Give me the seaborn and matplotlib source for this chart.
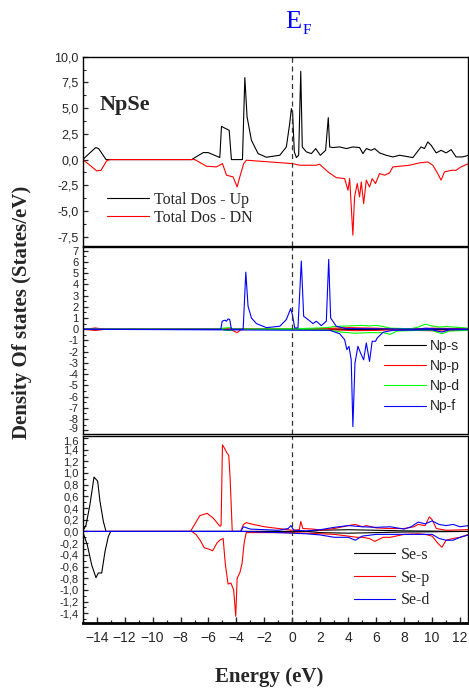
import matplotlib
matplotlib.use("Agg")
import matplotlib.pyplot as plt
import matplotlib.transforms as mtransforms
import seaborn as sns
from matplotlib.ticker import MultipleLocator, FuncFormatter

# ── Data (energy in eV, DOS in states/eV) ────
# Panel 1: total DOS
tot_up_e = [-15, -14.07, -13.86, -13.33, -7.21, -6.38, -6.02, -5.19, -5.07, -4.9, -4.52, -4.36,
            -3.57, -3.4, -3.24, -2.93, -2.45, -1.86, -0.9, -0.43, -0.19, -0.07, 0.02, 0.14,
            0.29, 0.45, 0.6, 0.71, 1.0, 1.36, 1.67, 2.0, 2.38, 2.57, 2.67, 2.9, 3.38, 3.86,
            4.33, 4.81, 5.05, 5.29, 5.64, 5.88, 6.24, 6.71, 7.19, 7.67, 8.62, 9.21, 9.45,
            9.69, 9.93, 10.29, 10.64, 11.0, 11.36, 11.71, 12.19, 12.6]
tot_up_dos = [0, 1.17, 1.07, 0, 0, 0.68, 0.68, 0.2, 3.24, 3.1, 2.85, 0,
              0, 7.97, 4.15, 1.88, 0.58, 0.23, 0.42, 1.23, 3.5, 4.96, 4.47, 0.75,
              0.2, 0.42, 8.58, 1.23, 0.75, 0.58, 1.07, 0.42, 0.9, 4.08, 1.23, 1.17, 1.23, 1.07,
              1.23, 1.17, 0.58, 1.07, 0.9, 1.07, 0.65, 0.42, 0.26, 0.42, 0.2, 1.23, 1.07,
              1.72, 1.39, 0.65, 0.9, 0.65, 0.97, 0.26, 0.26, 0.42]

tot_dn_e = [-15, -14.48, -14.0, -13.69, -13.29, -13.05, -6.98, -6.14, -5.43, -5.0, -4.71, -4.24,
            -3.95, -3.76, -3.48, -3.29, 0, 0.52, 1.71, 1.95, 2.55, 3.14, 3.74, 3.98, 4.1,
            4.33, 4.45, 4.64, 4.81, 4.93, 5.1, 5.29, 5.52, 5.71, 5.95, 6.24, 6.6, 6.95,
            7.19, 7.67, 8.38, 9.1, 9.69, 10.05, 10.4, 10.64, 10.88, 11.36, 11.71, 12.07, 12.6]
tot_dn_dos = [0, -0.55, -1.1, -1.04, -0.13, 0, 0, -0.65, -0.71, -0.39, -1.52, -1.68,
              -2.66, -1.68, -0.39, -0.06, -0.39, -0.55, -0.55, -0.45, -1.2, -1.75, -1.85, -2.98, -1.85,
              -7.35, -3.63, -2.33, -3.63, -2.17, -4.28, -2.0, -2.66, -1.85, -2.33, -1.36, -1.52, -1.3,
              -0.71, -0.65, -0.55, -0.32, -0.23, -0.55, -1.36, -2.0, -1.2, -1.04, -1.04, -0.71, -0.39]

# Panel 2: Np partial DOS
np_s_up_e = [-15, -14.1, -13.4, 2.0, 6.0, 12.6]
np_s_up_dos = [0, 0.03, 0, 0.02, 0.02, 0.01]
np_s_dn_e = [-15, -14.1, -13.4, 2.0, 6.0, 12.6]
np_s_dn_dos = [0, -0.03, 0, -0.02, -0.02, -0.01]

np_p_up_e = [-15, -14.5, -14.1, -13.7, -13.4, -5.0, -4.7, -4.3, 0, 2, 3, 4, 5, 6, 7, 9, 10, 12.6]
np_p_up_dos = [0, 0.05, 0.12, 0.05, 0, 0, 0.05, 0, 0.02, 0.05, 0.1, 0.15, 0.12, 0.1, 0.05, 0.05, 0.1, 0.05]
np_p_dn_e = [-15, -14.5, -14.1, -13.7, -13.4, -4.5, -4.2, -3.95, -3.7, -3.4, 0, 3, 4.5, 6, 7, 10.7, 12.6]
np_p_dn_dos = [0, -0.05, -0.1, -0.05, 0, 0, -0.15, -0.3, -0.05, 0, -0.02, -0.05, -0.12, -0.1, -0.05, -0.15, -0.05]

np_d_up_e = [-15, -5.1, -5.0, -4.4, -4.3, 0, 1.5, 2.5, 3.0, 4.0, 5.0, 5.5, 6.0, 6.5, 7.0, 8.5,
             9.0, 9.5, 10.0, 10.5, 11.0, 12.6]
np_d_up_dos = [0, 0, 0.1, 0.15, 0, 0.05, 0.1, 0.15, 0.25, 0.3, 0.35, 0.3, 0.35, 0.25, 0.1, 0.05,
               0.2, 0.45, 0.3, 0.2, 0.25, 0.1]
np_d_dn_e = [-15, -5, -4.8, -4.4, -4.2, 2.5, 3.5, 4.5, 5.5, 6.5, 7.0, 7.5, 9.0, 10.0, 10.7, 11.2, 12.6]
np_d_dn_dos = [0, 0, -0.1, -0.1, 0, -0.05, -0.25, -0.35, -0.3, -0.3, -0.45, -0.15, -0.1, -0.1, -0.4, -0.15, -0.1]

np_f_up_e = [-15, -5.12, -5.02, -4.83, -4.71, -4.6, -4.48, -4.36, -3.52, -3.33, -3.17, -2.93,
             -2.57, -1.86, -0.9, -0.43, -0.12, 0, 0.17, 0.4, 0.64, 0.81, 1.12, 1.48, 1.71,
             2.07, 2.43, 2.6, 2.74, 3.14, 3.86, 9.0, 9.5, 10.0, 12.6]
np_f_up_dos = [0, 0, 0.72, 0.81, 0.72, 0.93, 0.87, 0, 0, 5.1, 2.06, 1.01,
               0.51, 0.15, 0.27, 0.87, 1.85, 1.31, 0.12, 0.12, 6.09, 1.16, 0.87, 0.51, 0.72,
               0.33, 0.72, 6.24, 1.01, 0.27, 0.06, 0.02, 0.1, 0.05, 0.02]
np_f_dn_e = [-15, 2.67, 3.38, 3.74, 3.9, 4.05, 4.21, 4.33, 4.48, 4.69, 4.88, 5.1, 5.29, 5.52,
             5.71, 5.95, 6.07, 6.48, 7.19, 10.0, 10.7, 11.2, 12.6]
np_f_dn_dos = [0, -0.09, -0.39, -0.93, -1.82, -1.52, -2.72, -8.69, -3.01, -1.52, -2.12, -2.72, -1.22, -2.87,
               -1.07, -1.07, -0.78, -0.27, -0.09, -0.05, -0.25, -0.05, -0.03]

# Panel 3: Se partial DOS
se_s_up_e = [-15, -14.76, -14.48, -14.19, -13.93, -13.76, -13.52, -13.33, 1, 2, 4, 6, 8, 12.6]
se_s_up_dos = [0, 0.11, 0.46, 0.93, 0.86, 0.51, 0.17, 0, 0, 0.02, 0.03, 0.02, 0.01, 0]
se_s_dn_e = [-15, -14.67, -14.36, -14.05, -13.88, -13.64, -13.4, -13.17, -13.0, 1, 2, 4, 6, 8, 12.6]
se_s_dn_dos = [0, -0.23, -0.57, -0.79, -0.71, -0.71, -0.34, -0.09, 0, 0, -0.02, -0.03, -0.02, -0.01, 0]

se_p_up_e = [-15, -7.29, -6.62, -6.1, -5.67, -5.19, -5.1, -5.0, -4.85, -4.7, -4.55, -4.45, -4.3,
             -3.7, -3.5, -3.3, -2.8, -2.0, -1.0, 0.0, 0.5, 0.6, 0.75, 1.5, 2.0, 3.0, 4.0, 4.5,
             5.0, 5.3, 6.0, 7.0, 8.0, 8.7, 9.0, 9.5, 9.8, 10.0, 10.3, 11.0, 12.6]
se_p_up_dos = [0, 0, 0.27, 0.31, 0.23, 0.09, 0.1, 1.48, 1.42, 1.35, 1.3, 0.9, 0.0,
               0.0, 0.12, 0.15, 0.12, 0.08, 0.05, 0.02, 0.03, 0.17, 0.05, 0.04, 0.02, 0.05, 0.1, 0.12,
               0.08, 0.1, 0.06, 0.05, 0.05, 0.08, 0.12, 0.1, 0.25, 0.2, 0.05, 0.02, 0.03]
se_p_dn_e = [-15, -7.2, -6.9, -6.6, -6.3, -6.0, -5.7, -5.4, -5.2, -4.95, -4.8, -4.6, -4.4, -4.2,
             -4.05, -3.95, -3.75, -3.6, -3.45, -3.3, -2.0, 0, 1.0, 2.0, 3.0, 4.0, 4.6, 5.0, 5.5,
             5.9, 6.5, 7.0, 8.0, 9.0, 9.5, 10.0, 10.4, 10.7, 11.0, 11.5, 12.0, 12.6]
se_p_dn_dos = [0, 0, -0.05, -0.15, -0.28, -0.3, -0.33, -0.2, -0.15, -0.12, -0.55, -0.9, -0.88, -1.0,
               -1.45, -0.8, -0.7, -0.55, -0.2, -0.02, -0.02, -0.02, -0.03, -0.04, -0.05, -0.08, -0.1, -0.1, -0.12,
               -0.17, -0.1, -0.1, -0.05, -0.04, -0.05, -0.08, -0.2, -0.27, -0.15, -0.12, -0.1, -0.05]

se_d_up_e = [-15, -3.7, -3.5, -3.0, -1.0, -0.3, -0.1, 0.1, 1.0, 2.0, 3.0, 4.0, 5.0, 6.0, 7.0, 8.0,
             8.5, 9.0, 9.5, 10.0, 10.5, 11.0, 11.5, 12.0, 12.6]
se_d_up_dos = [0, 0, 0.08, 0.04, 0.02, 0.05, 0.1, 0.02, 0.01, 0.03, 0.07, 0.1, 0.08, 0.07, 0.08, 0.04,
               0.08, 0.16, 0.13, 0.18, 0.12, 0.1, 0.12, 0.08, 0.1]
se_d_dn_e = [-15, -3.5, -1.0, 0, 1, 2, 3, 4, 4.5, 5, 6, 7, 8, 9, 10, 10.5, 11, 11.5, 12, 12.6]
se_d_dn_dos = [0, 0, -0.02, -0.03, -0.04, -0.06, -0.1, -0.1, -0.15, -0.08, -0.05, -0.05, -0.05, -0.05,
               -0.05, -0.12, -0.15, -0.15, -0.1, -0.06]

x_ticks = [-14, -12, -10, -8, -6, -4, -2, 0, 2, 4, 6, 8, 10, 12]

# ── Style ────────────────────────────────────────────────────────────
sns.set_style("ticks")
plt.rcParams["font.family"] = ["Liberation Sans", "DejaVu Sans"]
SERIF = "Liberation Serif"
LW = 0.8


def comma_fmt(decimals):
    return FuncFormatter(lambda v, pos: f"{v:.{decimals}f}".replace(".", ","))


def draw(ax, e_up, v_up, e_dn, v_dn, color, label):
    sns.lineplot(x=e_up, y=v_up, ax=ax, color=color, linewidth=LW, sort=False,
                 estimator=None, label=label)
    sns.lineplot(x=e_dn, y=v_dn, ax=ax, color=color, linewidth=LW, sort=False,
                 estimator=None)


fig = plt.figure(figsize=(4.69, 6.88), dpi=100)
left, width = 0.1763, 0.8226
ax1 = fig.add_axes([left, 1 - 245.5 / 688, width, (245.5 - 56.7) / 688])
ax2 = fig.add_axes([left, 1 - 433.5 / 688, width, (433.5 - 247.5) / 688])
ax3 = fig.add_axes([left, 1 - 623.0 / 688, width, (623.0 - 435.5) / 688])

# Panel 1 — total DOS
sns.lineplot(x=tot_up_e, y=tot_up_dos, ax=ax1, color="black", linewidth=LW, sort=False,
             estimator=None, label="Total Dos - Up")
sns.lineplot(x=tot_dn_e, y=tot_dn_dos, ax=ax1, color="red", linewidth=LW, sort=False,
             estimator=None, label="Total Dos - DN")
ax1.set_ylim(-8.35, 10.0)
ax1.yaxis.set_major_locator(MultipleLocator(2.5))
ax1.yaxis.set_minor_locator(MultipleLocator(1.25))
ax1.yaxis.set_major_formatter(comma_fmt(1))
ax1.text(0.045, 0.718, "NpSe", transform=ax1.transAxes, fontsize=16, fontweight="bold",
         family=SERIF, va="baseline")
ax1.legend(loc="upper left", bbox_to_anchor=(0.063, 0.283), frameon=False, borderpad=0,
           borderaxespad=0, handlelength=2.6, handletextpad=0.35, labelspacing=0.12,
           prop={"family": SERIF, "size": 11.5})

# Panel 2 — Np projections
draw(ax2, np_s_up_e, np_s_up_dos, np_s_dn_e, np_s_dn_dos, "black", "Np-s")
draw(ax2, np_p_up_e, np_p_up_dos, np_p_dn_e, np_p_dn_dos, "red", "Np-p")
draw(ax2, np_d_up_e, np_d_up_dos, np_d_dn_e, np_d_dn_dos, "#00ff00", "Np-d")
draw(ax2, np_f_up_e, np_f_up_dos, np_f_dn_e, np_f_dn_dos, "blue", "Np-f")
ax2.set_ylim(-9.3, 7.3)
ax2.yaxis.set_major_locator(MultipleLocator(1))
ax2.yaxis.set_minor_locator(MultipleLocator(0.5))
ax2.yaxis.set_major_formatter(comma_fmt(0))
ax2.legend(loc="upper left", bbox_to_anchor=(0.781, 0.51), frameon=False, borderpad=0,
           borderaxespad=0, handlelength=3.0, handletextpad=0.3, labelspacing=0.45,
           prop={"size": 10})

# Panel 3 — Se projections
draw(ax3, se_s_up_e, se_s_up_dos, se_s_dn_e, se_s_dn_dos, "black", "Se-s")
draw(ax3, se_p_up_e, se_p_up_dos, se_p_dn_e, se_p_dn_dos, "red", "Se-p")
draw(ax3, se_d_up_e, se_d_up_dos, se_d_dn_e, se_d_dn_dos, "blue", "Se-d")
ax3.set_ylim(-1.565, 1.64)
ax3.yaxis.set_major_locator(MultipleLocator(0.2))
ax3.yaxis.set_minor_locator(MultipleLocator(0.1))
ax3.yaxis.set_major_formatter(comma_fmt(1))
ax3.legend(loc="upper left", bbox_to_anchor=(0.703, 0.405), frameon=False, borderpad=0,
           borderaxespad=0, handlelength=2.6, handletextpad=0.35, labelspacing=0.42,
           prop={"family": SERIF, "size": 11.5})

# Shared axis styling
for ax in (ax1, ax2, ax3):
    ax.set_xlim(-15, 12.6)
    ax.axvline(0, color="#333333", linewidth=0.9, linestyle=(0, (4, 3)))
    ax.set_xlabel("")
    ax.set_ylabel("")
    for side in ("top", "right", "left", "bottom"):
        ax.spines[side].set_visible(True)
        ax.spines[side].set_linewidth(1.0)
        ax.spines[side].set_color("black")
    ax.tick_params(axis="y", which="major", direction="in", length=3.5, width=0.9,
                   labelsize=8, pad=3)
    ax.tick_params(axis="y", which="minor", direction="in", length=2.5, width=0.8)

ax1.tick_params(axis="y", which="major", labelsize=9)

for ax in (ax1, ax2):
    ax.tick_params(axis="x", which="both", bottom=False, labelbottom=False)

ax3.set_xticks(x_ticks)
ax3.xaxis.set_minor_locator(MultipleLocator(1))
ax3.tick_params(axis="x", which="major", direction="in", length=4.5, width=1.0,
                labelsize=10, pad=6)
ax3.tick_params(axis="x", which="minor", direction="in", length=2.5, width=0.9)
ax3.spines["bottom"].set_linewidth(2.0)

# Labels
fig.text(0.047, 0.5465, "Density Of states (States/eV)", rotation=90, ha="center", va="center",
         fontsize=15, fontweight="bold", family=SERIF)
fig.text(0.5736, 0.0087, "Energy (eV)", ha="center", va="baseline",
         fontsize=15, fontweight="bold", family=SERIF)
fig.text(0.608, 0.959, "E", color="blue", fontsize=19, family=SERIF, va="baseline")
fig.text(0.645, 0.950, "F", color="blue", fontsize=11, family=SERIF, va="baseline")

# Nudge the two crowded labels at the panel 2/3 junction apart a little
fig.canvas.draw()
for lab in ax2.get_yticklabels():
    if lab.get_text() == "-9":
        lab.set_transform(lab.get_transform()
                          + mtransforms.ScaledTranslation(0, 0.022, fig.dpi_scale_trans))
for lab in ax3.get_yticklabels():
    if lab.get_text() == "1,6":
        lab.set_transform(lab.get_transform()
                          + mtransforms.ScaledTranslation(0, -0.022, fig.dpi_scale_trans))

plt.savefig("out.png", dpi=100)
plt.close()
